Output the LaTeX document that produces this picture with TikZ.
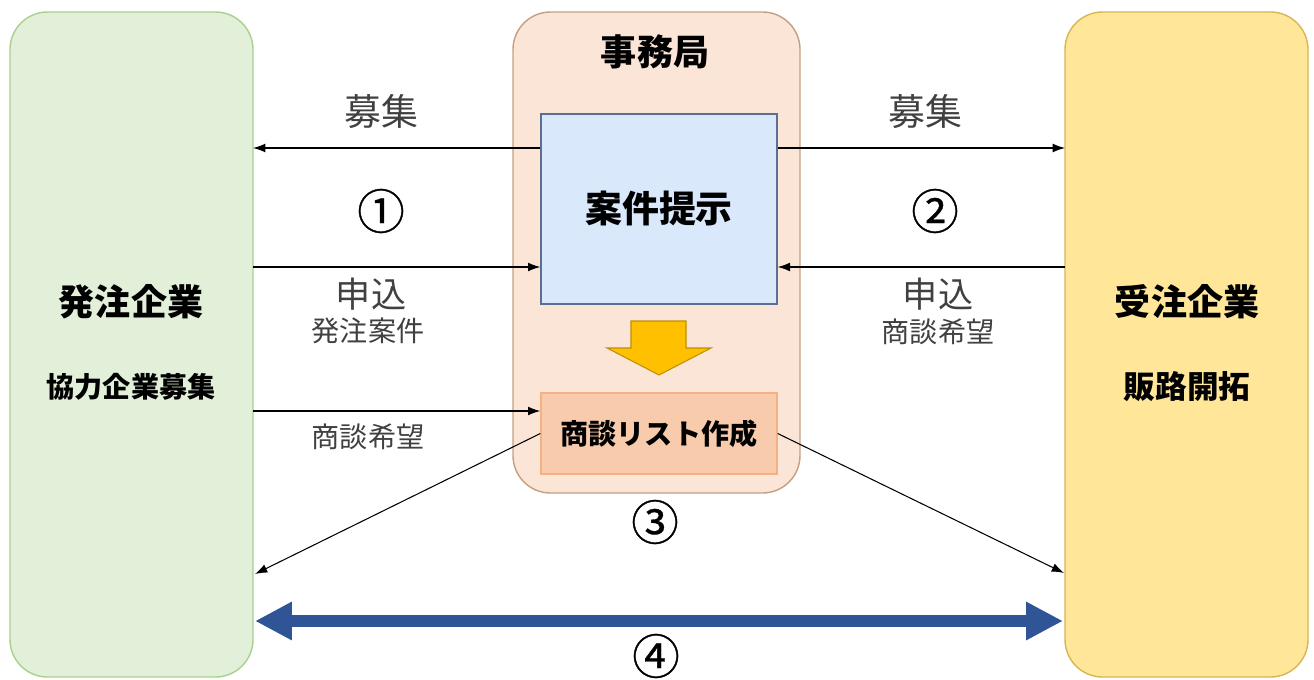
\documentclass[tikz,border=0pt]{standalone}
\usepackage{fontspec}
\setmainfont{Noto Sans CJK JP}
\newfontfamily\numfont[FakeBold=0.7]{Noto Sans CJK JP}
\usetikzlibrary{arrows.meta}
\definecolor{greenfill}{HTML}{E2EFD9}
\definecolor{greenline}{HTML}{A9D18E}
\definecolor{peachfill}{HTML}{FBE5D6}
\definecolor{peachline}{HTML}{C5A080}
\definecolor{yellowfill}{HTML}{FFE699}
\definecolor{yellowline}{HTML}{D6B656}
\definecolor{bluefill}{HTML}{DAE8FC}
\definecolor{blueline}{HTML}{5B6F94}
\definecolor{listfill}{HTML}{F8CBAD}
\definecolor{listline}{HTML}{F4B183}
\definecolor{gold}{HTML}{FFC000}
\definecolor{goldline}{HTML}{BF9000}
\definecolor{darkblue}{HTML}{2F5597}
\definecolor{labelgray}{HTML}{404040}
\begin{document}
\begin{tikzpicture}[x=0.02cm,y=-0.02cm,
  bigbox/.style={draw,line width=0.8pt,rounded corners=0.75cm},
  arr/.style={-{Latex[length=7pt,width=5pt]},line width=0.6pt,black},
  lbl/.style={text=labelgray,inner sep=0pt},
  num/.style={text=black,inner sep=0pt,font=\numfont\fontsize{27}{29}\selectfont},
  title/.style={font=\bfseries\fontsize{20.5}{22}\selectfont,inner sep=0pt},
  sub/.style={font=\bfseries\fontsize{16}{18}\selectfont,inner sep=0pt}]
\useasboundingbox (0,0) rectangle (1314,679);
% big boxes
\draw[bigbox,fill=greenfill,draw=greenline] (10,12) rectangle (253,677);
\draw[bigbox,fill=peachfill,draw=peachline] (513,12) rectangle (800,493);
\draw[bigbox,fill=yellowfill,draw=yellowline] (1065,12) rectangle (1308,677);
% coordinates on big box edges
\coordinate (L148) at (253,148);
\coordinate (L267) at (253,267);
\coordinate (L411) at (253,411);
\coordinate (L573) at (255,574);
\coordinate (L621) at (255,621);
\coordinate (R148) at (1065,148);
\coordinate (R267) at (1065,267);
\coordinate (R573) at (1064,573);
\coordinate (R621) at (1063,621);
% inner boxes
\node[draw=blueline,fill=bluefill,line width=0.8pt,minimum width=236*0.02cm,minimum height=190*0.02cm,
  font=\bfseries\fontsize{21}{23}\selectfont,inner sep=0pt] (case) at (659,209) {案件提示};
\node[draw=listline,fill=listfill,line width=0.8pt,minimum width=236*0.02cm,minimum height=81*0.02cm,
  font=\bfseries\fontsize{16}{18}\selectfont,inner sep=0pt] (list) at (659,433.5) {商談リスト作成};
% down arrow
\draw[draw=goldline,fill=gold,line width=0.6pt,line join=miter]
  (631,321) -- (686,321) -- (686,348) -- (711,348) -- (659,375) -- (607,348) -- (631,348) -- cycle;
% titles
\node[font=\bfseries\fontsize{20.5}{22}\selectfont,inner sep=0pt] (office) at (655,52) {事務局};
\node[title] (orderer) at (131,302) {発注企業};
\node[sub] (orderersub) at (131,387) {協力企業募集};
\node[title] (receiver) at (1187,302) {受注企業};
\node[sub,font=\bfseries\fontsize{18}{20}\selectfont] (receiversub) at (1187,387) {販路開拓};
% arrows
\draw[arr] (case.west |- L148) -- (L148);
\draw[arr] (case.east |- R148) -- (R148);
\draw[arr] (L267) -- (case.west |- L267);
\draw[arr] (R267) -- (case.east |- R267);
\draw[arr] (L411) -- (list.west |- L411);
\draw[arr] (list.west) -- (L573);
\draw[arr] (list.east) -- (R573);
\draw[{Triangle[length=0.74cm,width=0.72cm]}-{Triangle[length=0.74cm,width=0.72cm]},line width=0.24cm,darkblue] (L621) -- (R621);
% labels
\node[lbl,font=\fontsize{21}{23}\selectfont] (m1) at (381,112) {募集};
\node[lbl,font=\fontsize{21}{23}\selectfont] (m2) at (925,112) {募集};
\node[num] (n1) at (381,211) {①};
\node[num] (n2) at (935,211) {②};
\node[num] (n3) at (655,522) {③};
\node[num] (n4) at (656,656) {④};
\node[lbl,font=\fontsize{20}{22}\selectfont] (a1) at (371,294) {申込};
\node[lbl,font=\fontsize{16}{18}\selectfont] (a1s) at (368,331) {発注案件};
\node[lbl,font=\fontsize{20}{22}\selectfont] (a2) at (938,294) {申込};
\node[lbl,font=\fontsize{16}{18}\selectfont] (a2s) at (938,332) {商談希望};
\node[lbl,font=\fontsize{16}{18}\selectfont] (a3s) at (368,437) {商談希望};
\end{tikzpicture}
\end{document}
